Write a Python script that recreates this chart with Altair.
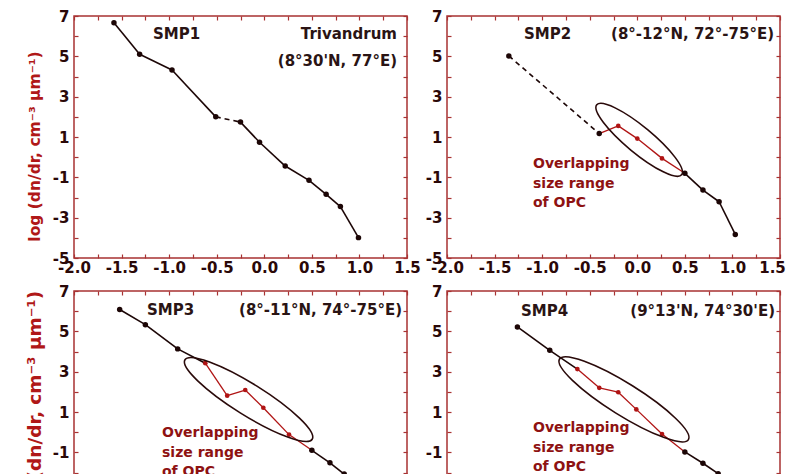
import altair as alt
import pandas as pd

# ---------------- data ----------------
# Panel SMP1 (Trivandrum)
p1_x = [-1.58, -1.31, -0.97, -0.51, -0.25, -0.05, 0.22, 0.47, 0.65, 0.80, 0.99]
p1_y = [6.67, 5.10, 4.32, 2.00, 1.74, 0.74, -0.44, -1.15, -1.84, -2.45, -3.99]
p1_kind = ["k"] * 11
p1_seg = ["k", "k", "k", "kd", "k", "k", "k", "k", "k", "k"]

# Panel SMP2
p2_x = [-1.35, -0.40, -0.20, 0.00, 0.26, 0.50, 0.69, 0.86, 1.03]
p2_y = [5.02, 1.17, 1.55, 0.92, -0.06, -0.80, -1.63, -2.21, -3.83]
p2_kind = ["k", "k", "r", "r", "r", "k", "k", "k", "k"]
p2_seg = ["kd", "r", "r", "r", "r", "k", "k", "k"]

# Panel SMP3
p3_x = [-1.52, -1.25, -0.91, -0.62, -0.39, -0.20, -0.01, 0.26, 0.50, 0.69, 0.84, 1.00]
p3_y = [6.08, 5.33, 4.13, 3.42, 1.81, 2.09, 1.21, -0.12, -0.90, -1.52, -2.08, -2.80]
p3_kind = ["k", "k", "k", "r", "r", "r", "r", "r", "k", "k", "k", "k"]
p3_seg = ["k", "k", "k", "r", "r", "r", "r", "r", "k", "k", "k"]

# Panel SMP4
p4_x = [-1.26, -0.92, -0.63, -0.40, -0.20, -0.01, 0.26, 0.50, 0.69, 0.85, 1.00]
p4_y = [5.22, 4.06, 3.13, 2.20, 1.98, 1.13, -0.09, -0.98, -1.54, -2.06, -2.80]
p4_kind = ["k", "k", "r", "r", "r", "r", "r", "k", "k", "k", "k"]
p4_seg = ["k", "k", "r", "r", "r", "r", "r", "k", "k", "k"]

# ellipse centres (data units) for the OPC overlap region
ell_x = [None, 0.02, -0.165, -0.14]
ell_y = [None, 0.86, 1.62, 1.63]

titles_left = ["SMP1", "SMP2", "SMP3", "SMP4"]
titles_right = [["Trivandrum", "(8°30'N, 77°E)"], ["(8°-12°N, 72°-75°E)"],
                ["(8°-11°N, 74°-75°E)"], ["(9°13'N, 74°30'E)"]]
overlap_lines = ["Overlapping", "size range", "of OPC"]

x_ticks = [-2.0 + 0.25 * i for i in range(15)]
y_ticks = list(range(-5, 8))
y_title = "log (dn/dr, cm⁻³ µm⁻¹)"

# ---------------- style ----------------
W, H = 333, 242
FONT = "DejaVu Sans"
FRAME = "#a83232"
LABEL = "#2a0808"
TITLE_RED = "#b01818"
BLACK = "#1c0606"
RED = "#b01414"
TEXT = "#2a1414"

k = 0.5523


def ellipse_path(r):
    return (f"M1,0 C1,{k*r:.4f} {k:.4f},{r:.4f} 0,{r:.4f} "
            f"C{-k:.4f},{r:.4f} -1,{k*r:.4f} -1,0 "
            f"C-1,{-k*r:.4f} {-k:.4f},{-r:.4f} 0,{-r:.4f} "
            f"C{k:.4f},{-r:.4f} 1,{-k*r:.4f} 1,0 Z")


xlab = ("abs(datum.value*2 - round(datum.value*2)) < 0.001 ? "
        "replace(format(datum.value, '.1f'), '\u2212', '-') : ''")
ylab = "datum.value % 2 != 0 ? replace(format(datum.value, 'd'), '\u2212', '-') : ''"

xs = alt.Scale(domain=[-2.0, 1.5], nice=False, zero=False)
ys = alt.Scale(domain=[-5, 7], nice=False, zero=False)

common_axis = dict(tickSize=4, offset=-4, domain=False, grid=False, tickColor=FRAME,
                   tickWidth=1.2, labelFont=FONT, labelFontSize=15, labelFontWeight="bold",
                   labelColor=LABEL, labelOverlap=False, labelBound=False, labelFlush=False)


def make_panel(i, px, py, kind, segs, ytitle):
    pts = pd.DataFrame({"x": px, "y": py, "kind": kind})
    rows = []
    for j, s in enumerate(segs):
        rows.append({"x": px[j], "y": py[j], "seg": j, "style": s, "o": 0})
        rows.append({"x": px[j + 1], "y": py[j + 1], "seg": j, "style": s, "o": 1})
    sdf = pd.DataFrame(rows)

    bottom_kw = dict(common_axis)
    if i in (1, 3):
        # last label of the right-hand panels sits a little left of its tick
        bottom_kw["labelOffset"] = {"condition": {"test": "datum.value > 1.4", "value": -8},
                                    "value": 0}
    ax_bottom = alt.Axis(orient="bottom", values=x_ticks, labelExpr=xlab, title=None,
                         labelPadding=2, **bottom_kw)
    ax_left_kw = dict(orient="left", values=y_ticks, labelExpr=ylab, labelPadding=5,
                      **common_axis)
    if ytitle:
        tsize = 15.5 if i == 0 else 18.5
        ty_pos = 130 if i == 0 else 113
        ax_left = alt.Axis(title=ytitle, titleFont=FONT, titleFontSize=tsize,
                           titleFontWeight="bold", titleColor=TITLE_RED,
                           titleX=-44, titleY=ty_pos, titleBaseline="middle",
                           titleAlign="center", titleAngle=270, **ax_left_kw)
    else:
        ax_left = alt.Axis(title=None, **ax_left_kw)
    ax_top = alt.Axis(orient="top", values=x_ticks, labels=False, title=None, **common_axis)
    ax_right = alt.Axis(orient="right", values=y_ticks, labels=False, title=None, **common_axis)

    def xy(axx=None, axy=None):
        return dict(x=alt.X("x:Q", scale=xs, axis=axx), y=alt.Y("y:Q", scale=ys, axis=axy))

    layers = []
    base = alt.Chart(sdf)
    layers.append(base.transform_filter("datum.style == 'k'")
                  .mark_line(color=BLACK, strokeWidth=1.6)
                  .encode(detail="seg:N", order="o:Q", **xy(ax_bottom, ax_left)))
    layers.append(base.transform_filter("datum.style == 'kd'")
                  .mark_line(color=BLACK, strokeWidth=1.6, strokeDash=[5, 4])
                  .encode(detail="seg:N", order="o:Q", **xy()))
    layers.append(base.transform_filter("datum.style == 'r'")
                  .mark_line(color=RED, strokeWidth=1.3)
                  .encode(detail="seg:N", order="o:Q", **xy()))
    pbase = alt.Chart(pts)
    layers.append(pbase.transform_filter("datum.kind == 'k'")
                  .mark_point(filled=True, color=BLACK, size=30, opacity=1)
                  .encode(**xy(ax_top, ax_right)))
    layers.append(pbase.transform_filter("datum.kind == 'r'")
                  .mark_point(filled=True, color=RED, size=22, opacity=1)
                  .encode(**xy()))

    if ell_x[i] is not None:
        a_px = [0, 55, 75, 76][i]
        ratio = [0, 0.24, 0.21, 0.21][i]
        ang = [0, 39.5, 32, 32][i]
        edf = pd.DataFrame({"x": [ell_x[i]], "y": [ell_y[i]]})
        layers.append(alt.Chart(edf).mark_point(shape=ellipse_path(ratio), filled=False,
                                                color="#2a0a0a", strokeWidth=1.6,
                                                size=(2 * a_px) ** 2, angle=ang, opacity=1)
                      .encode(**xy()))
        ox = [0, 86, 88, 86][i]
        oy = [0, 148, 142, 137][i]
        one = pd.DataFrame({"t": [0]})
        for n, line in enumerate(overlap_lines):
            layers.append(alt.Chart(one).mark_text(align="left", baseline="middle", font=FONT,
                                                   fontSize=14, fontWeight="bold", color="#8e1212")
                          .encode(x=alt.value(ox), y=alt.value(oy + 19.5 * n),
                                  text=alt.value(line)))

    one = pd.DataFrame({"t": [0]})
    lx = [79, 77, 73, 74][i]
    ty = [18, 18, 19, 20][i]
    layers.append(alt.Chart(one).mark_text(align="left", baseline="middle", font=FONT,
                                           fontSize=15, fontWeight="bold", color=TEXT)
                  .encode(x=alt.value(lx), y=alt.value(ty), text=alt.value(titles_left[i])))
    rx = [323, 327, 328, 328][i]
    for n, line in enumerate(titles_right[i]):
        layers.append(alt.Chart(one).mark_text(align="right", baseline="middle", font=FONT,
                                               fontSize=15, fontWeight="bold", color=TEXT)
                      .encode(x=alt.value(rx), y=alt.value(ty + 27 * n), text=alt.value(line)))

    return alt.layer(*layers).resolve_axis(x="independent", y="independent").properties(
        width=W, height=H)


p1 = make_panel(0, p1_x, p1_y, p1_kind, p1_seg, y_title)
p2 = make_panel(1, p2_x, p2_y, p2_kind, p2_seg, None)
p3 = make_panel(2, p3_x, p3_y, p3_kind, p3_seg, y_title)
p4 = make_panel(3, p4_x, p4_y, p4_kind, p4_seg, None)

chart = alt.concat(p1, p2, p3, p4, columns=2,
                   spacing=alt.RowColnumber(row=33, column=40),
                   bounds="flush").configure_view(
    stroke=FRAME, strokeWidth=1.5).properties(
    padding={"left": 16, "top": 0, "right": 0, "bottom": 0})

chart.save("out.html", embed_options={"renderer": "svg", "actions": False})
